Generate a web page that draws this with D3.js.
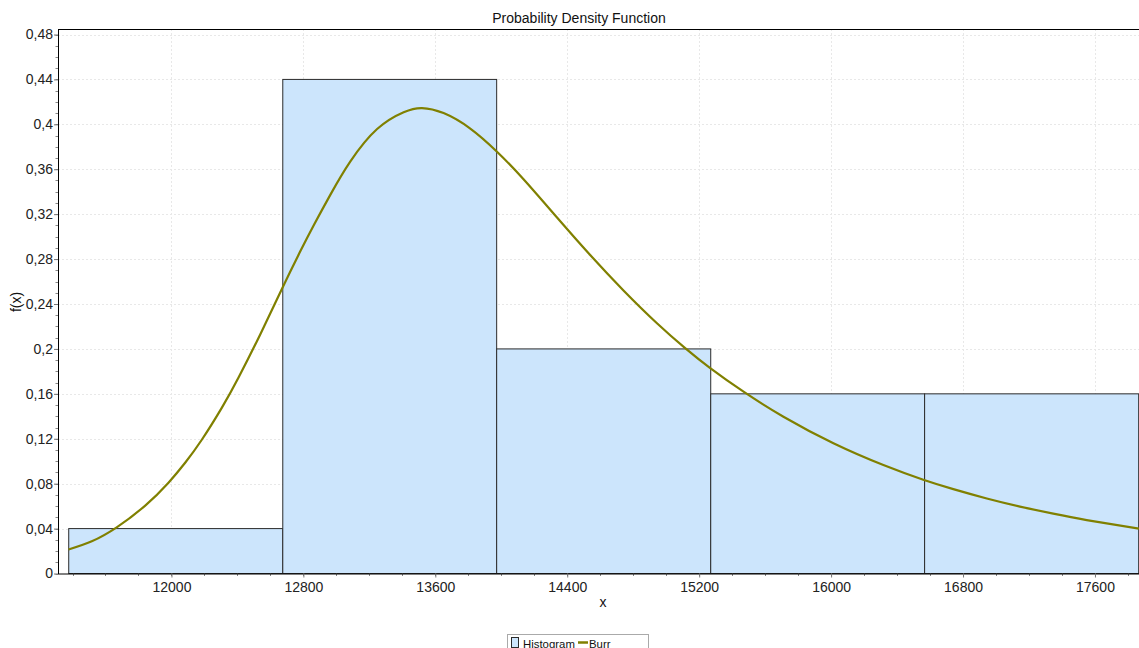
<!DOCTYPE html>
<html lang="en">
<head>
<meta charset="UTF-8">
<title>Probability Density Function</title>
<style type="text/css">
	body { margin: 0; background: #fff; }
	svg { display: block; font-family: "Liberation Sans", Arial, sans-serif; }
	.grid line { stroke: #e8e8e8; stroke-dasharray: 2,2; }
	.axis path { stroke: #000; }
	.axis text { font-size: 14px; fill: #222; }
	.bar { fill: #cce5fc; stroke: #2b2b2b; stroke-width: 1px; }
	.burr { fill: none; stroke: #808000; stroke-width: 2.2px; }
</style>
</head>
<body>
<svg id="chart"></svg>

<script src="https://cdn.jsdelivr.net/npm/d3@7"></script>
<script>
	"use strict";

	// histogram bins (edges) and heights
	var binEdges = [11377, 12675, 13972, 15270, 16567, 17865];
	var binHeights = [0.04, 0.44, 0.2, 0.16, 0.16];

	// Burr curve
	var curveX = [11376, 11517, 11668, 11841, 11982, 12083, 12184, 12305, 12406, 12539,
		12671, 12782, 12862, 12964, 13085, 13247, 13408, 13519, 13650, 13812,
		13974, 14135, 14338, 14539, 14741, 14944, 15115, 15267, 15469, 15711,
		16014, 16317, 16559, 16741, 16944, 17145, 17347, 17550, 17867];
	var curveY = [0.0214, 0.0287, 0.0411, 0.0605, 0.0809, 0.0986, 0.1191, 0.1475, 0.1743, 0.2131,
		0.2538, 0.2871, 0.3099, 0.3374, 0.3670, 0.3958, 0.4108, 0.4145, 0.4100, 0.3962,
		0.3756, 0.3511, 0.3170, 0.2836, 0.2521, 0.2229, 0.2007, 0.1829, 0.1619, 0.1396,
		0.1160, 0.0966, 0.0835, 0.0751, 0.0668, 0.0596, 0.0533, 0.0476, 0.0400];

	var xTicks = [12000, 12800, 13600, 14400, 15200, 16000, 16800, 17600];
	var yTicks = [0, 0.04, 0.08, 0.12, 0.16, 0.2, 0.24, 0.28, 0.32, 0.36, 0.4, 0.44, 0.48];
	var legendNames = ["Histogram", "Burr"];

	var W = 1139, H = 648;
	var pl = 58, pt = 29, pr = 1139, pb = 573.5;

	var svg = d3.select("#chart").attr("width", W).attr("height", H);

	var x = d3.scaleLinear().domain([11312, 17867]).range([pl, pr]);
	var y = d3.scaleLinear().domain([0, 0.4849]).range([pb, pt]);

	var fmt = function(d){ return String(+d.toFixed(2)).replace(".", ","); };

	// grid
	svg.append("g").attr("class", "grid")
	  .selectAll("line").data(xTicks).enter().append("line")
	  .attr("x1", function(d){ return Math.round(x(d)) + 0.5; })
	  .attr("x2", function(d){ return Math.round(x(d)) + 0.5; })
	  .attr("y1", pt).attr("y2", pb);
	svg.append("g").attr("class", "grid")
	  .selectAll("line").data(yTicks.slice(1)).enter().append("line")
	  .attr("y1", function(d){ return Math.round(y(d)) + 0.5; })
	  .attr("y2", function(d){ return Math.round(y(d)) + 0.5; })
	  .attr("x1", pl).attr("x2", pr);

	// histogram bars
	svg.append("g")
	  .selectAll("rect")
	  .data(binHeights)
	  .enter()
	  .append("rect")
	  .attr("class", "bar")
	  .attr("x", function(d, i){ return x(binEdges[i]); })
	  .attr("y", function(d){ return y(d); })
	  .attr("width", function(d, i){ return x(binEdges[i + 1]) - x(binEdges[i]); })
	  .attr("height", function(d){ return y(0) - y(d); });

	// curve
	var line = d3.line()
	  .x(function(d){ return x(d); })
	  .y(function(d, i){ return y(curveY[i]); })
	  .curve(d3.curveNatural);
	svg.append("path").attr("class", "burr").attr("d", line(curveX));

	// minor ticks
	var xMinor = d3.range(11400, 17867, 200);
	svg.append("g")
	  .selectAll("line").data(xMinor).enter().append("line")
	  .attr("x1", function(d){ return Math.round(x(d)) + 0.5; })
	  .attr("x2", function(d){ return Math.round(x(d)) + 0.5; })
	  .attr("y1", pb).attr("y2", pb + 2.5)
	  .attr("stroke", "#888");
	var yMinor = d3.range(0, 0.481, 0.01);
	svg.append("g")
	  .selectAll("line").data(yMinor).enter().append("line")
	  .attr("y1", function(d){ return Math.round(y(d)) + 0.5; })
	  .attr("y2", function(d){ return Math.round(y(d)) + 0.5; })
	  .attr("x1", pl - 2.5).attr("x2", pl)
	  .attr("stroke", "#888");

	// axes
	var xAxis = d3.axisBottom(x).tickValues(xTicks).tickFormat(d3.format("d")).tickSize(4).tickSizeOuter(0).tickPadding(5);
	var gx = svg.append("g").attr("class", "axis").attr("transform", "translate(0," + pb + ")").call(xAxis);
	gx.selectAll(".tick line").attr("stroke", "#777");

	var yAxis = d3.axisLeft(y).tickValues(yTicks).tickFormat(fmt).tickSize(4).tickSizeOuter(0).tickPadding(1);
	var gy = svg.append("g").attr("class", "axis").attr("transform", "translate(" + pl + ",0)").call(yAxis);
	gy.selectAll(".tick line").attr("stroke", "#777");
	gy.select(".domain").attr("d", "M0.5," + pt + "V" + (pb + 0.5));
	gx.select(".domain").attr("d", "M" + pl + ",0.5H" + pr);

	// top border
	svg.append("line").attr("x1", pl).attr("x2", pr).attr("y1", pt + 0.5).attr("y2", pt + 0.5).attr("stroke", "#000");

	// title and labels
	svg.append("text").attr("x", 579).attr("y", 23).attr("text-anchor", "middle")
	  .style("font-size", "14px").attr("fill", "#111").text("Probability Density Function");
	svg.append("text").attr("x", 603).attr("y", 607).attr("text-anchor", "middle")
	  .style("font-size", "14px").attr("fill", "#111").text("x");
	svg.append("text").attr("transform", "translate(21,302) rotate(-90)").attr("text-anchor", "middle")
	  .style("font-size", "14px").attr("fill", "#111").text("f(x)");

	// legend
	var lg = svg.append("g");
	lg.append("rect").attr("x", 507.5).attr("y", 634.5).attr("width", 141).attr("height", 20)
	  .attr("fill", "#fff").attr("stroke", "#aaa");
	lg.append("rect").attr("x", 511.5).attr("y", 637.5).attr("width", 7).attr("height", 10)
	  .attr("fill", "#cce5fc").attr("stroke", "#2b2b2b");
	lg.append("text").attr("x", 523).attr("y", 647.5).style("font-size", "11.4px").attr("fill", "#111").text(legendNames[0]);
	lg.append("line").attr("x1", 578).attr("x2", 588).attr("y1", 642.5).attr("y2", 642.5)
	  .attr("stroke", "#808000").attr("stroke-width", 2.5);
	lg.append("text").attr("x", 589).attr("y", 647.5).style("font-size", "11.4px").attr("fill", "#111").text(legendNames[1]);
</script>
</body>
</html>
